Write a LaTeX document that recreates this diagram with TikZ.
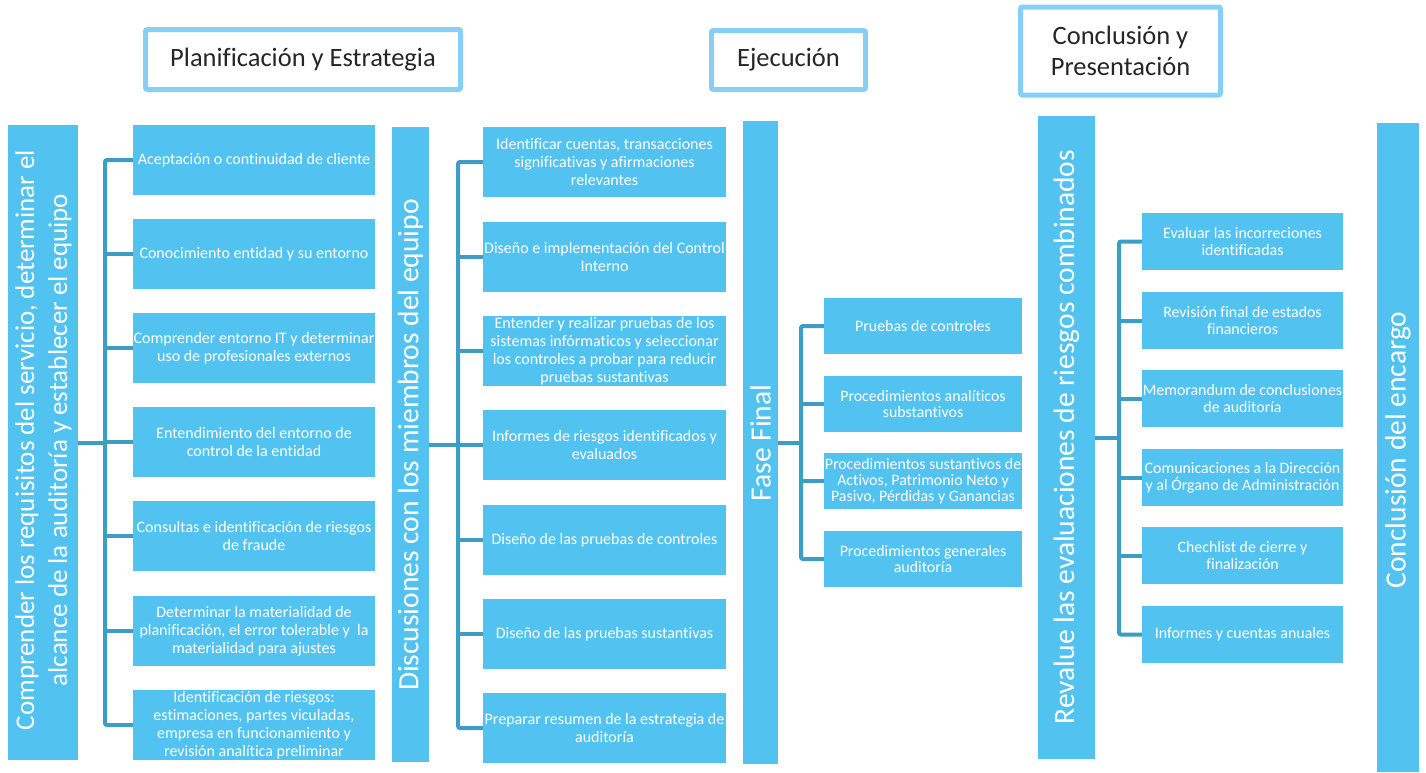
\documentclass[tikz,border=0pt]{standalone}
\usepackage{fontspec}
\setmainfont{Carlito}[Ligatures=NoCommon]
\definecolor{boxblue}{HTML}{52C3F0}
\definecolor{hdrblue}{HTML}{88CFF5}
\definecolor{brkblue}{HTML}{3E9DC4}
\definecolor{hdrtext}{HTML}{262626}
\begin{document}
\begin{tikzpicture}[x=1pt,y=-1pt,
  box/.style={fill=boxblue,draw=none,inner sep=0pt,align=center,text=white,
    font=\fontsize{16}{18}\selectfont},
  boxA/.style={box,minimum width=242,minimum height=70},
  boxB/.style={box,minimum width=243,minimum height=70},
  boxC/.style={box,minimum width=198,minimum height=56,font=\fontsize{15.9}{16.2}\selectfont},
  boxD/.style={box,minimum width=201,minimum height=57,font=\fontsize{15.9}{17}\selectfont},
  bar/.style={fill=boxblue,draw=none,inner sep=0pt},
  bartext/.style={text=white,align=center,rotate=90,inner sep=0pt,font=\fontsize{29.5}{33}\selectfont},
  hdr/.style={draw=hdrblue,line width=5pt,fill=white,rounded corners=2pt,inner sep=0pt,
    align=center,text=hdrtext,font=\fontsize{26.5}{31}\selectfont},
  brk/.style={draw=brkblue,line width=4pt,rounded corners=2pt}
]
\useasboundingbox (0,0) rectangle (1426,772);
\fill[white] (0,0) rectangle (1426,772);

% headers
\node[hdr,minimum width=315,minimum height=60] (h1) at (303,59.5) {Planificación y Estrategia};
\node[hdr,minimum width=154,minimum height=59] (h2) at (788.5,60) {Ejecución};
\node[hdr,minimum width=200,minimum height=88] (h3) at (1120.5,51) {Conclusión y\\Presentación};

% bars
\node[bar,minimum width=70,minimum height=635] (b1) at (43,442.5) {};
\node[bartext,font=\fontsize{27}{33}\selectfont] (t1) at (43.5,440) {Comprender los requisitos del servicio, determinar el\\alcance de la auditoría y establecer el equipo};
\node[bar,minimum width=37,minimum height=635] (b2) at (410.5,444.5) {};
\node[bartext] (t2) at (410.5,445) {Discusiones con los miembros del equipo};
\node[bar,minimum width=35,minimum height=643] (b3) at (760.5,442.5) {};
\node[bartext] (t3) at (760.5,443) {Fase Final};
\node[bar,minimum width=57,minimum height=643] (b4) at (1066.5,437.5) {};
\node[bartext] (t4) at (1066.5,437) {Revalue las evaluaciones de riesgos combinados};
\node[bar,minimum width=42,minimum height=649] (b5) at (1398,447.5) {};
\node[bartext] (t5) at (1398,450) {Conclusión del encargo};

% column 1
\node[boxA] (a1) at (254,160) {Aceptación o continuidad de cliente};
\node[boxA] (a2) at (254,254) {Conocimiento entidad y su entorno};
\node[boxA] (a3) at (254,348) {Comprender entorno IT y determinar\\uso de profesionales externos};
\node[boxA] (a4) at (254,442) {Entendimiento del entorno de\\control de la entidad};
\node[boxA] (a5) at (254,536) {Consultas e identificación de riesgos\\de fraude};
\node[boxA] (a6) at (254,631) {Determinar la materialidad de\\planificación, el error tolerable y~ la\\materialidad para ajustes};
\node[boxA] (a7) at (254,725) {Identificación de riesgos:\\estimaciones, partes viculadas,\\empresa en funcionamiento y\\revisión analítica preliminar};

% column 2
\node[boxB] (c1) at (604.5,162) {Identificar cuentas, transacciones\\significativas y afirmaciones\\relevantes};
\node[boxB] (c2) at (604.5,257) {Diseño e implementación del Control\\Interno};
\node[boxB] (c3) at (604.5,351) {Entender y realizar pruebas de los\\sistemas infórmaticos y seleccionar\\los controles a probar para reducir\\pruebas sustantivas};
\node[boxB] (c4) at (604.5,445) {Informes de riesgos identificados y\\evaluados};
\node[boxB] (c5) at (604.5,540) {Diseño de las pruebas de controles};
\node[boxB] (c6) at (604.5,634) {Diseño de las pruebas sustantivas};
\node[boxB] (c7) at (604.5,728) {Preparar resumen de la estrategia de\\auditoría};

% column 3
\node[boxC] (e1) at (923,326) {Pruebas de controles};
\node[boxC] (e2) at (923,404) {Procedimientos analíticos\\substantivos};
\node[boxC] (e3) at (923,481) {Procedimientos sustantivos de\\Activos, Patrimonio Neto y\\Pasivo, Pérdidas y Ganancias};
\node[boxC] (e4) at (923,559) {Procedimientos generales\\auditoría};

% column 4
\node[boxD] (f1) at (1242.5,241.5) {Evaluar las incorreciones\\identificadas};
\node[boxD] (f2) at (1242.5,320.5) {Revisión final de estados\\financieros};
\node[boxD] (f3) at (1242.5,398.5) {Memorandum de conclusiones\\de auditoría};
\node[boxD] (f4) at (1242.5,477.5) {Comunicaciones a la Dirección\\y al Órgano de Administración};
\node[boxD] (f5) at (1242.5,555.5) {Chechlist de cierre y\\finalización};
\node[boxD] (f6) at (1242.5,634.5) {Informes y cuentas anuales};

% bracket coordinates
\coordinate (v1) at (105,443);
\coordinate (v2) at (458,445);
\coordinate (v3) at (801,443);
\coordinate (v4) at (1119,438);

% bracket 1
\draw[brk] (a1.west) -| (v1 |- a7.west) -- (a7.west);
\foreach \n in {a2,a3,a4,a5,a6} \draw[brk] (\n.west) -- (\n.west -| v1);
\draw[brk] (b1.east |- v1) -- (v1);
% bracket 2
\draw[brk] (c1.west) -| (v2 |- c7.west) -- (c7.west);
\foreach \n in {c2,c3,c4,c5,c6} \draw[brk] (\n.west) -- (\n.west -| v2);
\draw[brk] (b2.east |- v2) -- (v2);
% bracket 3
\draw[brk] (e1.west) -| (v3 |- e4.west) -- (e4.west);
\foreach \n in {e2,e3} \draw[brk] (\n.west) -- (\n.west -| v3);
\draw[brk] (b3.east |- v3) -- (v3);
% bracket 4
\draw[brk] (f1.west) -| (v4 |- f6.west) -- (f6.west);
\foreach \n in {f2,f3,f4,f5} \draw[brk] (\n.west) -- (\n.west -| v4);
\draw[brk] (b4.east |- v4) -- (v4);
\end{tikzpicture}
\end{document}
